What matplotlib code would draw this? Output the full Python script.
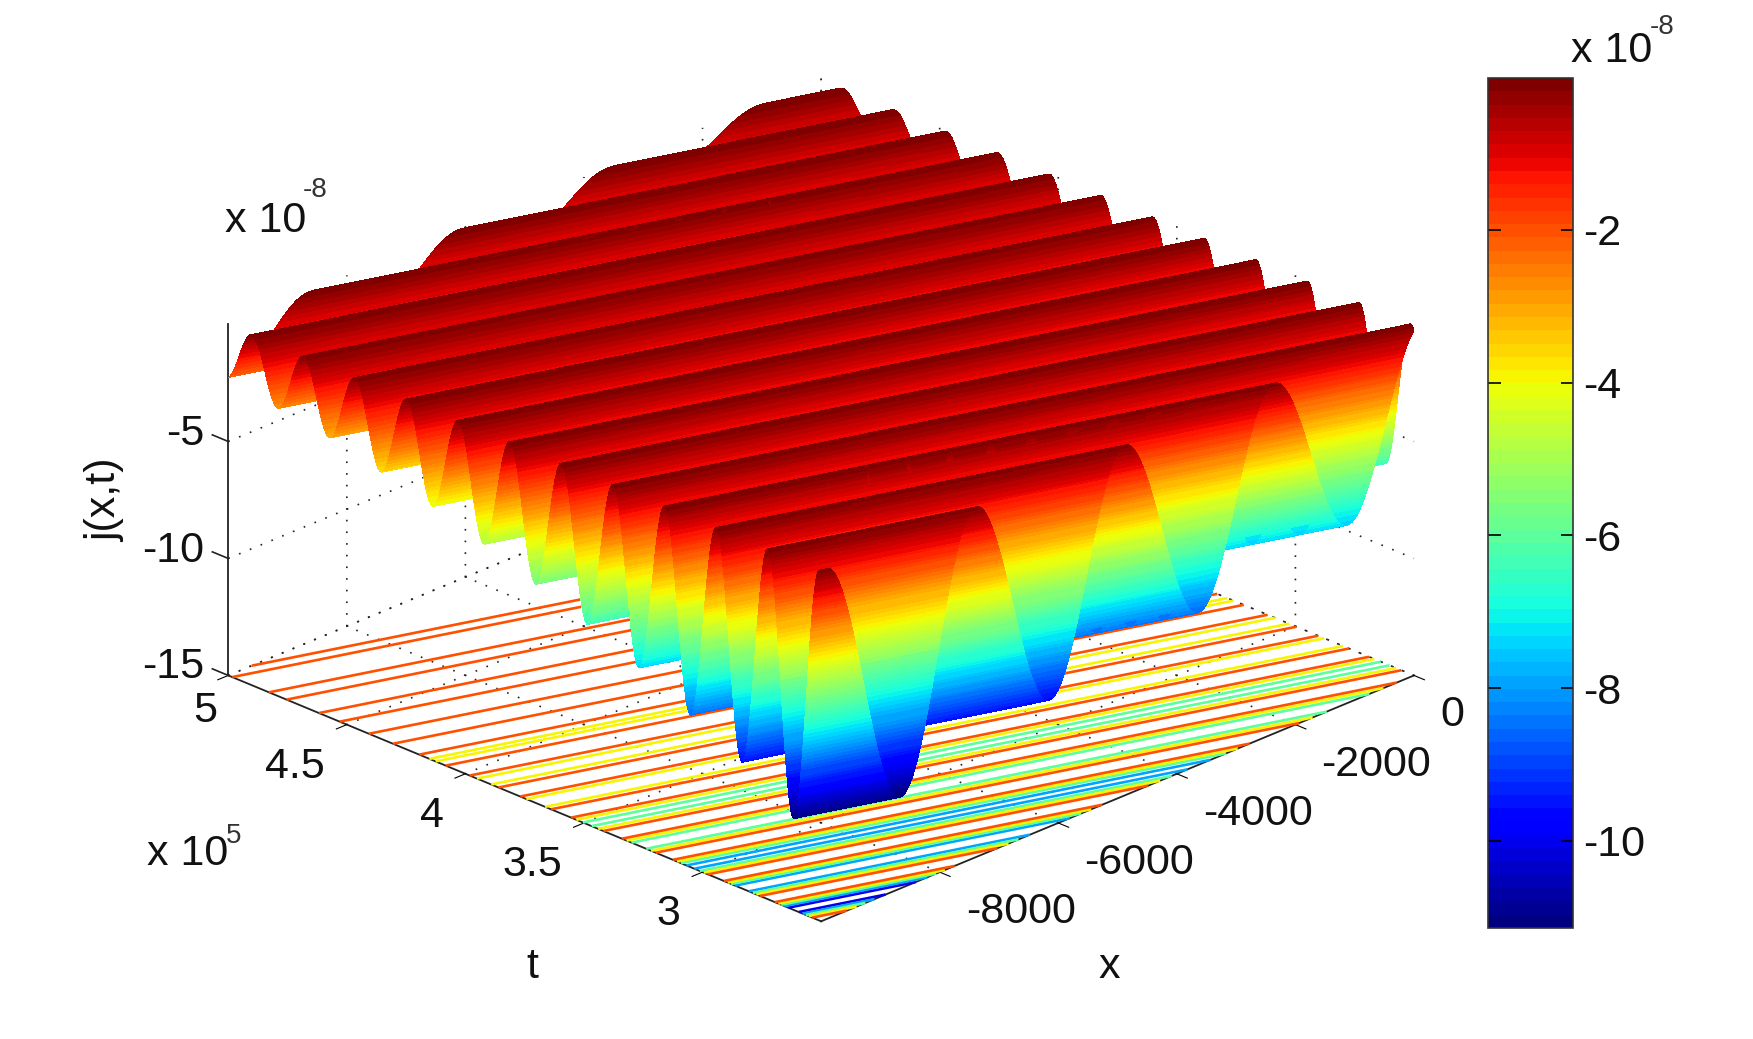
import numpy as np
import matplotlib
matplotlib.use("Agg")
import matplotlib.pyplot as plt
from matplotlib.colors import Normalize
from matplotlib.cm import ScalarMappable
from mpl_toolkits.mplot3d import proj3d

plt.rcParams['font.family'] = ['Liberation Sans', 'DejaVu Sans']

# values (j in units of 1e-8, t in units of 1e5)
trough_depth = [-11.1, -9.6, -8.5, -7.4, -6.45, -5.65, -4.85, -4.15, -3.6, -3.05,
                -2.7, -2.3, -1.9, -1.5, -1.2, -0.9]
crest_value = -0.03
wave_period = 0.087       # in the moving coordinate s = t_frac + drift * x_frac
wave_drift = 0.346
first_trough = 0.0465
x_range = (-10000, 0)
t_range = (2.5, 5.0)
z_range = (-15, 0)
color_range = (-11.14, -0.01)
x_ticks = [-8000, -6000, -4000, -2000, 0]
x_ticklabels = ['-8000', '-6000', '-4000', '-2000', '0']
t_ticks = [3, 3.5, 4, 4.5, 5]
t_ticklabels = ['3', '3.5', '4', '4.5', '5']
z_ticks = [-15, -10, -5]
z_ticklabels = ['-15', '-10', '-5']
contour_levels = [-10, -8, -6, -4, -2]
cbar_ticks = [-10, -8, -6, -4, -2]
cbar_ticklabels = ['-10', '-8', '-6', '-4', '-2']

W, H = 1753, 1039
FS = 31
fig = plt.figure(figsize=(W / 100, H / 100), dpi=100, facecolor='white')


def profile(s):
    n = np.clip(np.rint((s - first_trough) / wave_period).astype(int), 0, len(trough_depth) - 1)
    w = 0.5 * (1 + np.cos(2 * np.pi * (s - first_trough - n * wave_period) / wave_period))
    return crest_value + (np.array(trough_depth)[n] - crest_value) * w


# mesh of strips that follow the ridges from one edge of the domain to the other
u_nodes = np.linspace(0, 1 + wave_drift, 3000)
v_nodes = np.linspace(0, 1, 16)
U, V = np.meshgrid(u_nodes, v_nodes, indexing='ij')
xf_lo = np.maximum(0, (U - 1) / wave_drift)
xf_hi = np.minimum(1, U / wave_drift)
XF = xf_lo + (xf_hi - xf_lo) * V
TF = np.clip(U - wave_drift * XF, 0, 1)
XS = x_range[0] + (x_range[1] - x_range[0]) * XF
TS = t_range[0] + (t_range[1] - t_range[0]) * TF
ZS = profile(U)

# regular mesh for the floor contours
xc = np.linspace(0, 1, 120)
tc = np.linspace(0, 1, 1500)
XFc, TFc = np.meshgrid(xc, tc)
Xc = x_range[0] + (x_range[1] - x_range[0]) * XFc
Tc = t_range[0] + (t_range[1] - t_range[0]) * TFc
Zc = profile(TFc + wave_drift * XFc)

cmap = plt.get_cmap('jet', 64)
norm = Normalize(*color_range)

ax = fig.add_axes([0.0354, 5.5 / H, 0.85, 1.0], projection='3d', computed_zorder=False)
ax.set_proj_type('ortho')
ax.view_init(elev=24.5, azim=-135)
ax.set_box_aspect((1, 1, 0.46), zoom=1.165)
ax.patch.set_alpha(0)

for axis in (ax.xaxis, ax.yaxis, ax.zaxis):
    axis.set_pane_color((1, 1, 1, 0))
    axis.pane.set_edgecolor((1, 1, 1, 0))
    axis.line.set_color('#222222')
    axis.line.set_linewidth(1.3)
    axis._axinfo['grid'].update(color='#222222', linestyle=(0, (1, 6)), linewidth=1.2)
    axis._axinfo['tick'].update(inward_factor=0.22, outward_factor=0.0)
ax.zaxis._axinfo['tick'].update(inward_factor=0.0, outward_factor=0.0)

cs = ax.contour(Xc, Tc, Zc, levels=contour_levels, zdir='z', offset=z_range[0],
                cmap=cmap, norm=norm, linewidths=1.9, zorder=1)
cs.set_clip_on(False)
surf = ax.plot_surface(XS, TS, ZS, facecolors=cmap(norm(ZS)), rstride=1, cstride=1,
                       shade=False, linewidth=0, antialiased=False, zorder=2)
surf.set_clip_on(False)

# z tick marks stick out along +t at the left corner of the box
for zv in z_ticks:
    ax.plot([x_range[0], x_range[0]], [t_range[1], t_range[1] + 0.067], [zv, zv],
            color='#222222', lw=1.2, clip_on=False, zorder=3)
ax.set_xlim(*x_range)
ax.set_ylim(*t_range)
ax.set_zlim(*z_range)

ax.set_xticks(x_ticks, [''] * len(x_ticks))
ax.set_yticks(t_ticks, [''] * len(t_ticks))
ax.set_zticks(z_ticks, [''] * len(z_ticks))
ax.zaxis.set_ticks_position('upper')


def tick_label(xv, tv, zv, label, dx, dy, ha):
    """Tick label anchored at a data point of the box, offset in pixels."""
    px, py, _ = proj3d.proj_transform(xv, tv, zv, ax.get_proj())
    ax.annotate(label, xy=(px, py), xycoords='data', xytext=(dx, dy), textcoords='offset pixels',
                ha=ha, va='center', fontsize=FS, color='#111111', annotation_clip=False)


for xv, lab in zip(x_ticks, x_ticklabels):
    tick_label(xv, t_range[0], z_range[0], lab, 26, -40, 'left')
for tv, lab in zip(t_ticks, t_ticklabels):
    off = (-11, -36) if tv == t_range[1] else (-22, -42)
    tick_label(x_range[0], tv, z_range[0], lab, off[0], off[1], 'right')
for zv, lab in zip(z_ticks, z_ticklabels):
    tick_label(x_range[0], t_range[1], zv, lab, -24, 8 if zv == z_range[0] else 7, 'right')


def txt(px, py, s, size=FS, color='#111111', **kw):
    fig.text(px / W, 1 - py / H, s, fontsize=size, color=color, **kw)


txt(225, 232, 'x 10')
txt(303, 197, '-8', size=20, color='#333333')
txt(147, 865, 'x 10')
txt(226, 843, '5', size=20, color='#333333')
txt(532, 978, 't', ha='center')
txt(1109, 978, 'x', ha='center')
txt(125, 500, 'j(x,t)', rotation=90, ha='right', va='center')
txt(1571, 62, 'x 10')
txt(1650, 34, '-8', size=20, color='#333333')

cax = fig.add_axes([1488 / W, 1 - 928 / H, 85 / W, 850 / H])
cb = fig.colorbar(ScalarMappable(norm=norm, cmap=cmap), cax=cax)
cb.set_ticks(cbar_ticks, labels=cbar_ticklabels)
cb.ax.tick_params(labelsize=FS, length=9, width=1.2, direction='in', left=True, right=True, pad=7, labelcolor='#111111')
cb.outline.set_linewidth(1.2)
cb.outline.set_edgecolor('#333333')

fig.savefig('out.png', dpi=100)
